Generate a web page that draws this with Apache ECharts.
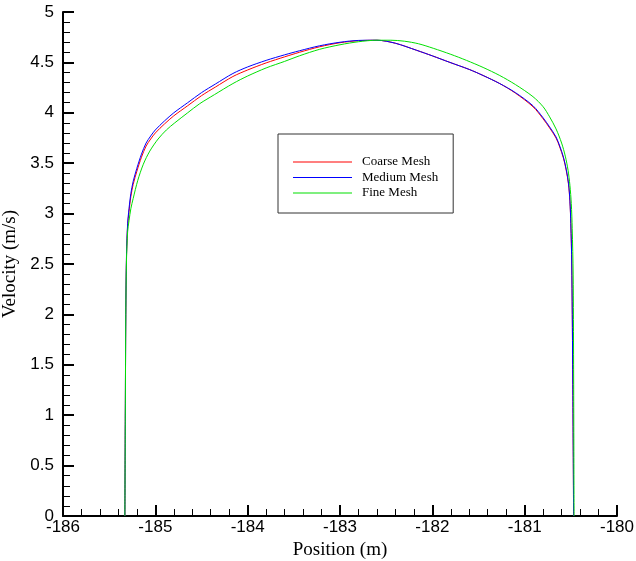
<!DOCTYPE html>
<html>
<head>
<meta charset="utf-8">
<script src="https://cdn.jsdelivr.net/npm/echarts@6/dist/echarts.min.js"></script>
<style>
  html, body { margin: 0; padding: 0; background: #fff; }
  #chart { width: 636px; height: 561px; }
</style>
</head>
<body>
<div id="chart"></div>
<script>
// Velocity profiles across the channel for three mesh resolutions
const seriesNames = ['Coarse Mesh', 'Medium Mesh', 'Fine Mesh'];
const seriesColors = ['#ff0000', '#0000ff', '#00e000'];

const coarsePos = [-185.330, -185.325, -185.320, -185.312, -185.300, -185.285, -185.265, -185.24, -185.20, -185.15,
  -185.10, -185.05, -185.00, -184.90, -184.80, -184.65, -184.50, -184.35, -184.16, -184.00,
  -183.80, -183.60, -183.44, -183.22, -183.00, -182.80, -182.60, -182.40, -182.17, -182.00,
  -181.81, -181.60, -181.45, -181.27, -181.10, -180.91, -180.80, -180.73, -180.66, -180.62,
  -180.58, -180.55, -180.525, -180.51, -180.50, -180.49, -180.48, -180.47];
const coarseVel = [0, 1.0, 2.0, 2.58, 2.88, 3.02, 3.17, 3.29, 3.42, 3.56,
  3.67, 3.74, 3.80, 3.89, 3.97, 4.07, 4.17, 4.255, 4.36, 4.425,
  4.495, 4.555, 4.60, 4.655, 4.695, 4.715, 4.72, 4.69, 4.62, 4.565,
  4.50, 4.43, 4.37, 4.29, 4.195, 4.06, 3.94, 3.85, 3.75, 3.66,
  3.55, 3.43, 3.29, 3.12, 2.90, 2.50, 1.50, 0];

const mediumPos = [-185.330, -185.325, -185.320, -185.312, -185.300, -185.285, -185.265, -185.24, -185.20, -185.15,
  -185.10, -185.05, -185.00, -184.90, -184.80, -184.65, -184.50, -184.35, -184.16, -184.00,
  -183.80, -183.60, -183.44, -183.22, -183.00, -182.80, -182.60, -182.40, -182.17, -182.00,
  -181.81, -181.60, -181.45, -181.27, -181.10, -180.91, -180.80, -180.73, -180.66, -180.62,
  -180.58, -180.55, -180.525, -180.51, -180.50, -180.49, -180.48, -180.47];
const mediumVel = [0, 1.0, 2.0, 2.6, 2.90, 3.05, 3.20, 3.32, 3.45, 3.59,
  3.70, 3.77, 3.83, 3.92, 4.00, 4.10, 4.20, 4.285, 4.39, 4.455,
  4.52, 4.575, 4.615, 4.665, 4.70, 4.718, 4.72, 4.69, 4.62, 4.565,
  4.50, 4.43, 4.37, 4.29, 4.20, 4.07, 3.95, 3.86, 3.76, 3.67,
  3.56, 3.44, 3.30, 3.13, 2.90, 2.50, 1.50, 0];

const finePos = [-185.330, -185.325, -185.320, -185.312, -185.300, -185.285, -185.265, -185.24, -185.19, -185.13,
  -185.06, -184.97, -184.88, -184.79, -184.65, -184.52, -184.36, -184.16, -184.00, -183.80,
  -183.60, -183.44, -183.22, -183.00, -182.80, -182.60, -182.45, -182.30, -182.15, -181.99,
  -181.80, -181.63, -181.45, -181.27, -181.10, -180.91, -180.80, -180.73, -180.66, -180.60,
  -180.56, -180.53, -180.51, -180.495, -180.485, -180.475, -180.47, -180.465];
const fineVel = [0, 1.0, 2.0, 2.55, 2.82, 2.93, 3.05, 3.15, 3.33, 3.49,
  3.62, 3.74, 3.83, 3.90, 4.00, 4.09, 4.18, 4.29, 4.365, 4.445,
  4.51, 4.565, 4.63, 4.675, 4.705, 4.72, 4.72, 4.71, 4.685, 4.64,
  4.58, 4.52, 4.45, 4.37, 4.28, 4.16, 4.06, 3.96, 3.84, 3.70,
  3.57, 3.43, 3.28, 3.10, 2.85, 2.40, 1.50, 0];

const positions = [coarsePos, mediumPos, finePos];
const velocities = [coarseVel, mediumVel, fineVel];

const xTicks = { min: -186, max: -180, interval: 1 };
const yTicks = { min: 0, max: 5, interval: 0.5 };

function pairs(xs, ys) {
  return xs.map((x, i) => [x, ys[i]]);
}

const tickLabel = { fontFamily: '"Liberation Sans", Arial, sans-serif', fontSize: 17, color: '#000' };
const titleFont = { fontFamily: '"Liberation Serif", "Times New Roman", serif', fontSize: 19, color: '#000' };

const axisCommon = {
  type: 'value',
  splitLine: { show: false },
  axisLine: { show: true, onZero: false, lineStyle: { color: '#000', width: 2 } },
  axisTick: { show: true, inside: true, length: 11, lineStyle: { color: '#000', width: 2 } },
  minorTick: { show: true, splitNumber: 5, length: 7, lineStyle: { color: '#000', width: 1 } },
  nameLocation: 'middle',
  nameTextStyle: titleFont
};

const chart = echarts.init(document.getElementById('chart'), null, { renderer: 'canvas' });
chart.setOption({
  animation: false,
  backgroundColor: '#fff',
  grid: { left: 63, right: 19, top: 12, bottom: 45, containLabel: false, outerBoundsMode: 'none' },
  legend: {
    data: seriesNames.map((name, i) => ({
      name: name,
      icon: 'rect',
      itemStyle: { color: seriesColors[i], borderColor: seriesColors[i], borderWidth: 0 }
    })),
    orient: 'vertical',
    left: 278,
    top: 134,
    padding: [21, 15, 13, 15],
    itemWidth: 59,
    itemHeight: 1,
    itemGap: 1.5,
    borderColor: '#333',
    borderWidth: 1,
    backgroundColor: '#fff',
    textStyle: {
      fontFamily: '"Liberation Serif", "Times New Roman", serif',
      fontSize: 13,
      lineHeight: 14,
      color: '#000',
      padding: [0, 0, 0, 5]
    }
  },
  xAxis: Object.assign({}, axisCommon, {
    min: xTicks.min, max: xTicks.max, interval: xTicks.interval,
    name: 'Position (m)',
    nameGap: 24,
    axisLabel: Object.assign({ margin: 3 }, tickLabel)
  }),
  yAxis: Object.assign({}, axisCommon, {
    min: yTicks.min, max: yTicks.max, interval: yTicks.interval,
    name: 'Velocity (m/s)',
    nameGap: 32,
    nameRotate: 90,
    axisLabel: Object.assign({ margin: 9 }, tickLabel)
  }),
  series: seriesNames.map((name, i) => ({
    name: name,
    type: 'line',
    data: pairs(positions[i], velocities[i]),
    showSymbol: false,
    symbol: 'none',
    smooth: 0.3,
    lineStyle: { color: seriesColors[i], width: 1 },
    itemStyle: { color: seriesColors[i], borderColor: seriesColors[i] }
  }))
});
</script>
</body>
</html>
